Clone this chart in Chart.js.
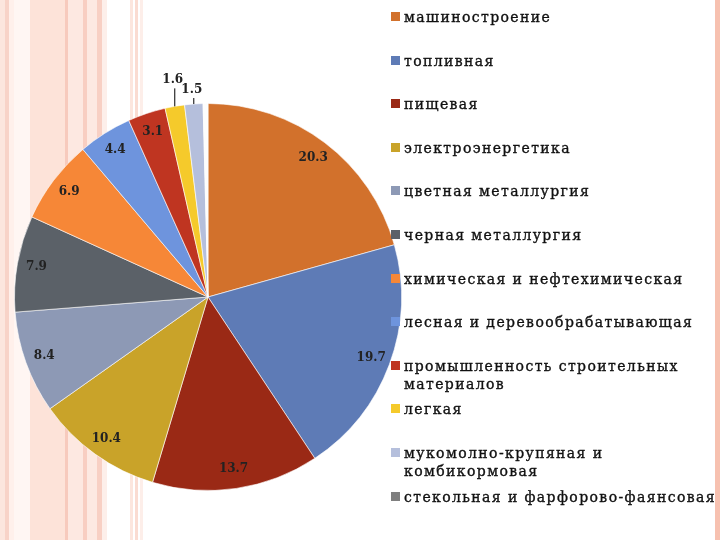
<!DOCTYPE html>
<html>
<head>
<meta charset="utf-8">
<script src="https://cdn.jsdelivr.net/npm/chart.js@4.4.1/dist/chart.umd.min.js"></script>
<style>
    html, body {
        margin: 0;
        padding: 0;
    }
    body {
        width: 720px;
        height: 540px;
        position: relative;
        overflow: hidden;
        background: #ffffff;
    }
    /* полосы фона слайда */
    #stripes {
        position: absolute;
        left: 0; top: 0;
        width: 145px; height: 540px;
        background: linear-gradient(to right,
            #fce6de 0px, #fce6de 5px,
            #f8d3c8 5px, #f8d3c8 9px,
            #fff0eb 9px, #fff0eb 14px,
            #fff6f3 14px, #fff6f3 30px,
            #fde3d9 30px, #fde3d9 65px,
            #f7cabd 65px, #f7cabd 68px,
            #fde8e1 68px, #fde8e1 83px,
            #f8cec2 83px, #f8cec2 87px,
            #fde9e2 87px, #fde9e2 97px,
            #f8d0c4 97px, #f8d0c4 102px,
            #fdefea 102px, #fdefea 107px,
            #ffffff 107px, #ffffff 130px,
            #fce6de 130px, #fce6de 133px,
            #ffffff 133px, #ffffff 135px,
            #fadcd2 135px, #fadcd2 138px,
            #ffffff 138px, #ffffff 140px,
            #fdeee9 140px, #fdeee9 143px,
            #ffffff 143px);
    }
    #edge {
        position: absolute;
        right: 0; top: 0;
        width: 5px; height: 540px;
        background: #f7c1b0;
    }
    #chartBox {
        position: absolute;
        left: 0; top: 0;
        width: 416px; height: 540px;
    }
    #legend {
        position: absolute;
        left: 391px; top: 0;
        width: 329px; height: 540px;
        font-family: "DejaVu Serif", serif;
        font-size: 14px;
        letter-spacing: 1.4px;
        color: #111;
        -webkit-text-stroke: 0.35px #111;
    }
    .item {
        position: absolute;
        left: 0;
        line-height: 18px;
    }
    .item .box {
        position: absolute;
        left: 0; top: 4px;
        width: 9px; height: 9px;
        -webkit-text-stroke: 0;
    }
    .item .txt {
        margin-left: 13px;
        white-space: nowrap;
    }
</style>
</head>
<body>
<div id="stripes"></div>
<div id="edge"></div>
<div id="chartBox"><canvas id="pieChart"></canvas></div>
<div id="legend"></div>
<script>
// Отрасли промышленности (%)
const industries = [
    'машиностроение',
    'топливная',
    'пищевая',
    'электроэнергетика',
    'цветная металлургия',
    'черная металлургия',
    'химическая и нефтехимическая',
    'лесная и деревообрабатывающая',
    'промышленность строительных\nматериалов',
    'легкая',
    'мукомолно-крупяная и\nкомбикормовая',
    'стекольная и фарфорово-фаянсовая'
];
const shares = [20.3, 19.7, 13.7, 10.4, 8.4, 7.9, 6.9, 4.4, 3.1, 1.6, 1.5, 0.4];
const shareLabels = ['20.3', '19.7', '13.7', '10.4', '8.4', '7.9', '6.9', '4.4', '3.1', '1.6', '1.5', ''];

const sliceColors = [
    '#d2712c', '#5e7bb6', '#9a2915', '#c9a329', '#8d99b5', '#5b6168',
    '#f68737', '#6e94dd', '#bf3521', '#f5ca2b', '#b5bfdc', '#fdfdfd'
];
const legendColors = [
    '#d2712c', '#5e7bb6', '#9a2915', '#c9a329', '#8d99b5', '#5b6168',
    '#f68737', '#6e94dd', '#bf3521', '#f5ca2b', '#b5bfdc', '#7f7f7f'
];

// Подписи значений на секторах
const sliceLabels = {
    id: 'sliceLabels',
    afterDatasetsDraw(chart) {
        const ctx = chart.ctx;
        const meta = chart.getDatasetMeta(0);
        ctx.save();
        ctx.font = 'bold 12px "DejaVu Serif", serif';
        ctx.fillStyle = '#222';
        ctx.textAlign = 'center';
        ctx.textBaseline = 'middle';
        meta.data.forEach((arc, i) => {
            const text = shareLabels[i];
            if (!text) return;
            const mid = (arc.startAngle + arc.endAngle) / 2;
            const r = arc.outerRadius;
            if (shares[i] >= 2) {
                const d = r * 0.9;
                ctx.fillText(text, arc.x + Math.cos(mid) * d, arc.y + Math.sin(mid) * d);
            } else {
                // маленькие секторы: выноска вверх
                const lead = i % 2 === 1 ? 18 : 6;
                const x0 = arc.x + Math.cos(mid) * r;
                const y0 = arc.y + Math.sin(mid) * r;
                ctx.strokeStyle = '#000';
                ctx.lineWidth = 1;
                ctx.beginPath();
                ctx.moveTo(x0, y0);
                ctx.lineTo(x0, y0 - lead);
                ctx.stroke();
                ctx.fillText(text, x0 - 2, y0 - lead - 8);
            }
        });
        ctx.restore();
    }
};

const ctx = document.getElementById('pieChart');
new Chart(ctx.getContext('2d'), {
    type: 'pie',
    data: {
        labels: industries,
        datasets: [{
            data: shares,
            backgroundColor: sliceColors,
            borderColor: 'rgba(255, 255, 255, 0.6)',
            borderWidth: 1
        }]
    },
    options: {
        responsive: true,
        maintainAspectRatio: false,
        animation: false,
        layout: {
            padding: { left: 14, right: 14, top: 103, bottom: 49 }
        },
        plugins: {
            legend: { display: false },
            tooltip: { enabled: false }
        }
    },
    plugins: [sliceLabels]
});

// Легенда справа
const legend = document.getElementById('legend');
industries.forEach((name, i) => {
    const item = document.createElement('div');
    item.className = 'item';
    item.style.top = (17 + 43.6 * i - 9) + 'px';
    const box = document.createElement('div');
    box.className = 'box';
    box.style.background = legendColors[i];
    const txt = document.createElement('div');
    txt.className = 'txt';
    txt.innerHTML = name.split('\n').join('<br>');
    item.appendChild(box);
    item.appendChild(txt);
    legend.appendChild(item);
});
</script>
</body>
</html>
